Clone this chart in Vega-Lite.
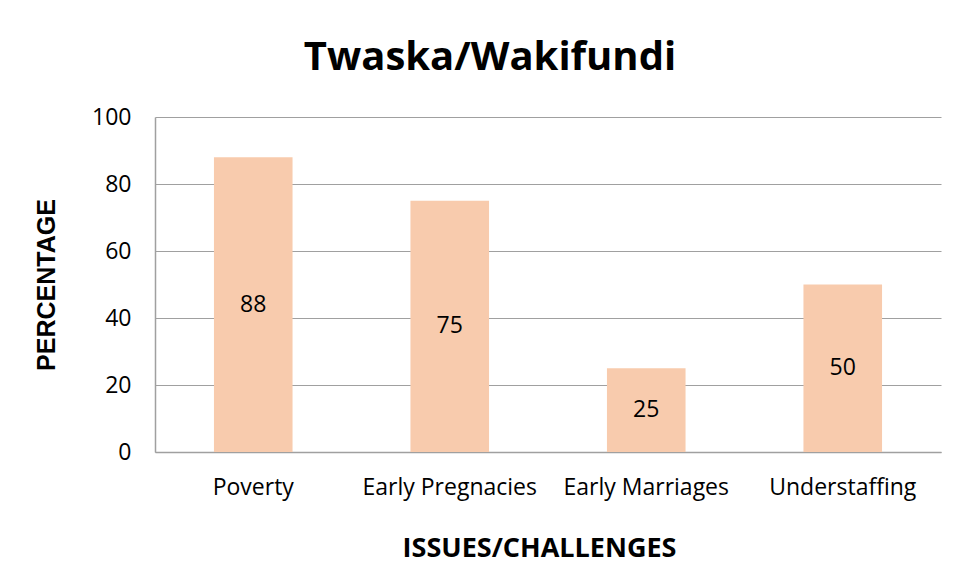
{
  "$schema": "https://vega.github.io/schema/vega-lite/v6.json",
  "width": 786,
  "height": 335,
  "autosize": {"type": "none"},
  "padding": {"left": 155, "top": 117, "right": 20, "bottom": 126},
  "background": "white",
  "title": {
    "text": "Twaska/Wakifundi",
    "font": "Open Sans",
    "fontSize": 40,
    "fontWeight": "bold",
    "color": "#000000",
    "anchor": "middle",
    "dx": -58,
    "offset": 28
  },
  "data": {
    "values": [
      {"issue": "Poverty", "pct": 88},
      {"issue": "Early Pregnacies", "pct": 75},
      {"issue": "Early Marriages", "pct": 25},
      {"issue": "Understaffing", "pct": 50}
    ]
  },
  "config": {
    "view": {"stroke": null},
    "font": "Open Sans"
  },
  "encoding": {
    "x": {
      "field": "issue",
      "type": "nominal",
      "sort": null,
      "scale": {"paddingInner": 0.6, "paddingOuter": 0.3},
      "axis": {
        "title": "ISSUES/CHALLENGES",
        "titleFont": "Open Sans",
        "titleFontSize": 27,
        "titleFontWeight": "bold",
        "titleColor": "#000000",
        "titlePadding": 36,
        "titleX": 384,
        "titleAlign": "center",
        "labelAngle": 0,
        "labelFont": "Open Sans",
        "labelFontSize": 23,
        "labelColor": "#000000",
        "labelPadding": 24,
        "ticks": false,
        "domainColor": "#A0A0A0",
        "domainWidth": 1.5
      }
    },
    "y": {
      "field": "pct",
      "type": "quantitative",
      "scale": {"domain": [0, 100]},
      "axis": {
        "title": "PERCENTAGE",
        "titleFont": "Liberation Sans",
        "titleFontSize": 25,
        "titleFontWeight": "bold",
        "titleColor": "#000000",
        "titlePadding": 32,
        "values": [0, 20, 40, 60, 80, 100],
        "labelFont": "Open Sans",
        "labelFontSize": 23,
        "labelColor": "#000000",
        "labelPadding": 24,
        "ticks": false,
        "domainColor": "#A0A0A0",
        "domainWidth": 1.5,
        "gridColor": "#A0A0A0",
        "gridWidth": 1.2
      }
    }
  },
  "layer": [
    {
      "mark": {"type": "bar", "color": "#F8CBAD"}
    },
    {
      "transform": [{"calculate": "datum.pct / 2", "as": "mid"}],
      "mark": {"type": "text", "fontSize": 23, "font": "Open Sans", "color": "#000000"},
      "encoding": {
        "y": {"field": "mid", "type": "quantitative"},
        "text": {"field": "pct", "type": "quantitative"}
      }
    }
  ]
}
